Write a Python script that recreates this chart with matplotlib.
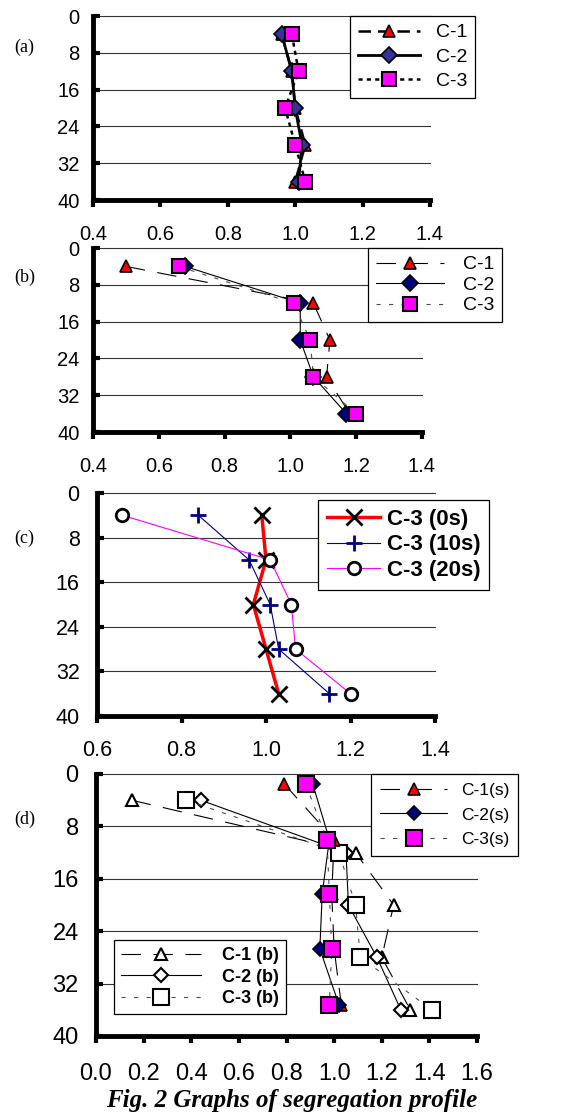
import matplotlib
matplotlib.use('Agg')
import matplotlib.pyplot as plt

plt.rcParams['font.family'] = ['Liberation Sans Narrow', 'Liberation Sans', 'DejaVu Sans']
plt.rcParams['lines.scale_dashes'] = False

# depth positions (cm)
depth = [4, 12, 20, 28, 36]
depth_s = [1.5, 10, 18.3, 26.7, 35.2]
yticks = [0, 8, 16, 24, 32, 40]

# (a)
a_c1 = [0.96, 0.99, 1.00, 1.03, 1.00]
a_c2 = [0.96, 0.99, 1.00, 1.02, 1.01]
a_c3 = [0.99, 1.01, 0.97, 1.00, 1.03]
# (b)
b_c1 = [0.50, 1.07, 1.12, 1.11, 1.18]
b_c2 = [0.68, 1.03, 1.03, 1.07, 1.17]
b_c3 = [0.66, 1.01, 1.06, 1.07, 1.20]
# (c)
c_0s = [0.99, 1.00, 0.97, 1.00, 1.03]
c_10s = [0.84, 0.96, 1.01, 1.03, 1.15]
c_20s = [0.66, 1.01, 1.06, 1.07, 1.20]
# (d)
s_c1 = [0.79, 1.00, 0.99, 1.00, 1.03]
s_c2 = [0.91, 0.98, 0.95, 0.94, 1.02]
s_c3 = [0.88, 0.97, 0.98, 0.99, 0.98]
d_c1 = [0.15, 1.09, 1.25, 1.20, 1.32]
d_c2 = [0.44, 1.05, 1.06, 1.18, 1.28]
d_c3 = [0.38, 1.02, 1.09, 1.11, 1.41]

W, H = 569, 1115
fig = plt.figure(figsize=(W / 100, H / 100), dpi=100)


def make_axes(left, right, top, bottom):
    return fig.add_axes([left / W, 1 - bottom / H, (right - left) / W, (bottom - top) / H])


def style(ax, xlim, xticks, fs, xpad, ypad):
    ax.set_xlim(*xlim)
    ax.set_ylim(40, 0)
    ax.set_xticks(xticks)
    ax.set_xticklabels(['%.1f' % v for v in xticks], fontsize=fs)
    ax.set_yticks(yticks)
    ax.set_yticklabels([str(v) for v in yticks], fontsize=fs)
    for s in ['top', 'right']:
        ax.spines[s].set_visible(False)
    for s in ['left', 'bottom']:
        ax.spines[s].set_linewidth(3.5)
    ax.tick_params(axis='y', direction='in', length=5, width=3, pad=ypad)
    ax.tick_params(axis='x', direction='out', length=5, width=3, pad=xpad)
    ax.grid(axis='y', color='0.2', lw=0.8)
    ax.set_axisbelow(True)
    for gl in ax.get_ygridlines():
        gl.set_clip_on(False)


def legend(ax, x0, y0, handles=None, **kw):
    if handles is not None:
        kw['handles'] = handles
    leg = ax.legend(loc='upper left', bbox_to_anchor=(x0 / W, 1 - y0 / H),
                    bbox_transform=fig.transFigure, borderaxespad=0, fancybox=False,
                    edgecolor='black', framealpha=1, **kw)
    leg.get_frame().set_linewidth(0.9)
    return leg


# ---- (a)
ax = make_axes(93, 430, 16, 200)
ax.plot(a_c1, depth, color='black', lw=1.8, dashes=(9, 5), marker='^', ms=9,
        mfc='red', mec='black', mew=1.2, label='C-1')
ax.plot(a_c2, depth, color='black', lw=2.0, marker='D', ms=8,
        mfc='#333399', mec='black', mew=1.2, label='C-2')
ax.plot(a_c3, depth, color='black', lw=1.8, dashes=(3, 3), marker='s', ms=10,
        mfc='magenta', mec='black', mew=1.5, label='C-3')
style(ax, (0.4, 1.4), [0.4, 0.6, 0.8, 1.0, 1.2, 1.4], 14.5, 13, 9.5)
legend(ax, 350, 16, fontsize=14, handlelength=3.2, labelspacing=0.35, borderpad=0.4)

# ---- (b)
ax = make_axes(93, 422, 248, 432)
ax.plot(b_c1, depth, color='black', lw=0.8, dashes=(14, 9), marker='^', ms=9,
        mfc='red', mec='black', mew=1.2, label='C-1')
ax.plot(b_c2, depth, color='black', lw=0.8, marker='D', ms=8,
        mfc='#000080', mec='black', mew=1.2, label='C-2')
ax.plot(b_c3, depth, color='0.3', lw=0.8, dashes=(3, 6), marker='s', ms=10,
        mfc='magenta', mec='black', mew=1.5, label='C-3')
style(ax, (0.4, 1.4), [0.4, 0.6, 0.8, 1.0, 1.2, 1.4], 14.5, 13, 9.5)
legend(ax, 368, 248, fontsize=14, handlelength=3.5, labelspacing=0.15, borderpad=0.4,
       handletextpad=1.0)

# ---- (c)
ax = make_axes(97, 435, 493, 716)
ax.plot(c_0s, depth, color='red', lw=2.5, marker='x', ms=11,
        mec='black', mew=2, label='C-3 (0s)')
ax.plot(c_10s, depth, color='#000080', lw=0.8, marker='+', ms=12,
        mec='#000080', mew=2, label='C-3 (10s)')
ax.plot(c_20s, depth, color='magenta', lw=0.8, marker='o', ms=9,
        mfc='white', mec='black', mew=2, label='C-3 (20s)')
style(ax, (0.6, 1.4), [0.6, 0.8, 1.0, 1.2, 1.4], 15.5, 12, 12.5)
legend(ax, 318, 500, handlelength=2.4, labelspacing=0.2, borderpad=0.4,
       handletextpad=0.3, prop={'weight': 'bold', 'size': 16})

# ---- (d)
ax = make_axes(96, 477, 774, 1036)
hb1, = ax.plot(d_c1, depth, color='black', lw=0.8, dashes=(14, 9), marker='^', ms=9,
               mfc='white', mec='black', mew=1.5, label='C-1 (b)')
hb2, = ax.plot(d_c2, depth, color='black', lw=0.8, marker='D', ms=7,
               mfc='white', mec='black', mew=1.5, label='C-2 (b)')
hb3, = ax.plot(d_c3, depth, color='0.3', lw=0.8, dashes=(3, 6), marker='s', ms=11,
               mfc='white', mec='black', mew=1.5, label='C-3 (b)')
hs1, = ax.plot(s_c1, depth_s, color='black', lw=0.8, dashes=(14, 9), marker='^', ms=9,
               mfc='red', mec='black', mew=1.2, label='C-1(s)')
hs2, = ax.plot(s_c2, depth_s, color='black', lw=0.8, marker='D', ms=7,
               mfc='#000080', mec='black', mew=1.2, label='C-2(s)')
hs3, = ax.plot(s_c3, depth_s, color='0.3', lw=0.8, dashes=(3, 6), marker='s', ms=11,
               mfc='magenta', mec='black', mew=1.5, label='C-3(s)')
style(ax, (0.0, 1.6), [0.0, 0.2, 0.4, 0.6, 0.8, 1.0, 1.2, 1.4, 1.6], 17, 14.5, 12.5)
leg1 = legend(ax, 371, 774, handles=[hs1, hs2, hs3], fontsize=12.5, handlelength=3.9,
              labelspacing=0.55, borderpad=0.5, handletextpad=0.8)
ax.add_artist(leg1)
legend(ax, 114, 940, handles=[hb1, hb2, hb3], prop={'weight': 'bold', 'size': 13},
       handlelength=4.4, labelspacing=0.25, borderpad=0.4, handletextpad=1.2)

# panel labels and caption
for lab, y in [('(a)', 47), ('(b)', 277), ('(c)', 538), ('(d)', 819)]:
    fig.text(14 / W, 1 - y / H, lab, family='Liberation Serif', fontsize=13, va='center')
fig.text(292 / W, 1 - 1100 / H, 'Fig. 2 Graphs of segregation profile',
         family='Liberation Serif', fontsize=18, weight='bold', style='italic',
         ha='center', va='center')

fig.savefig('out.png', dpi=100)
